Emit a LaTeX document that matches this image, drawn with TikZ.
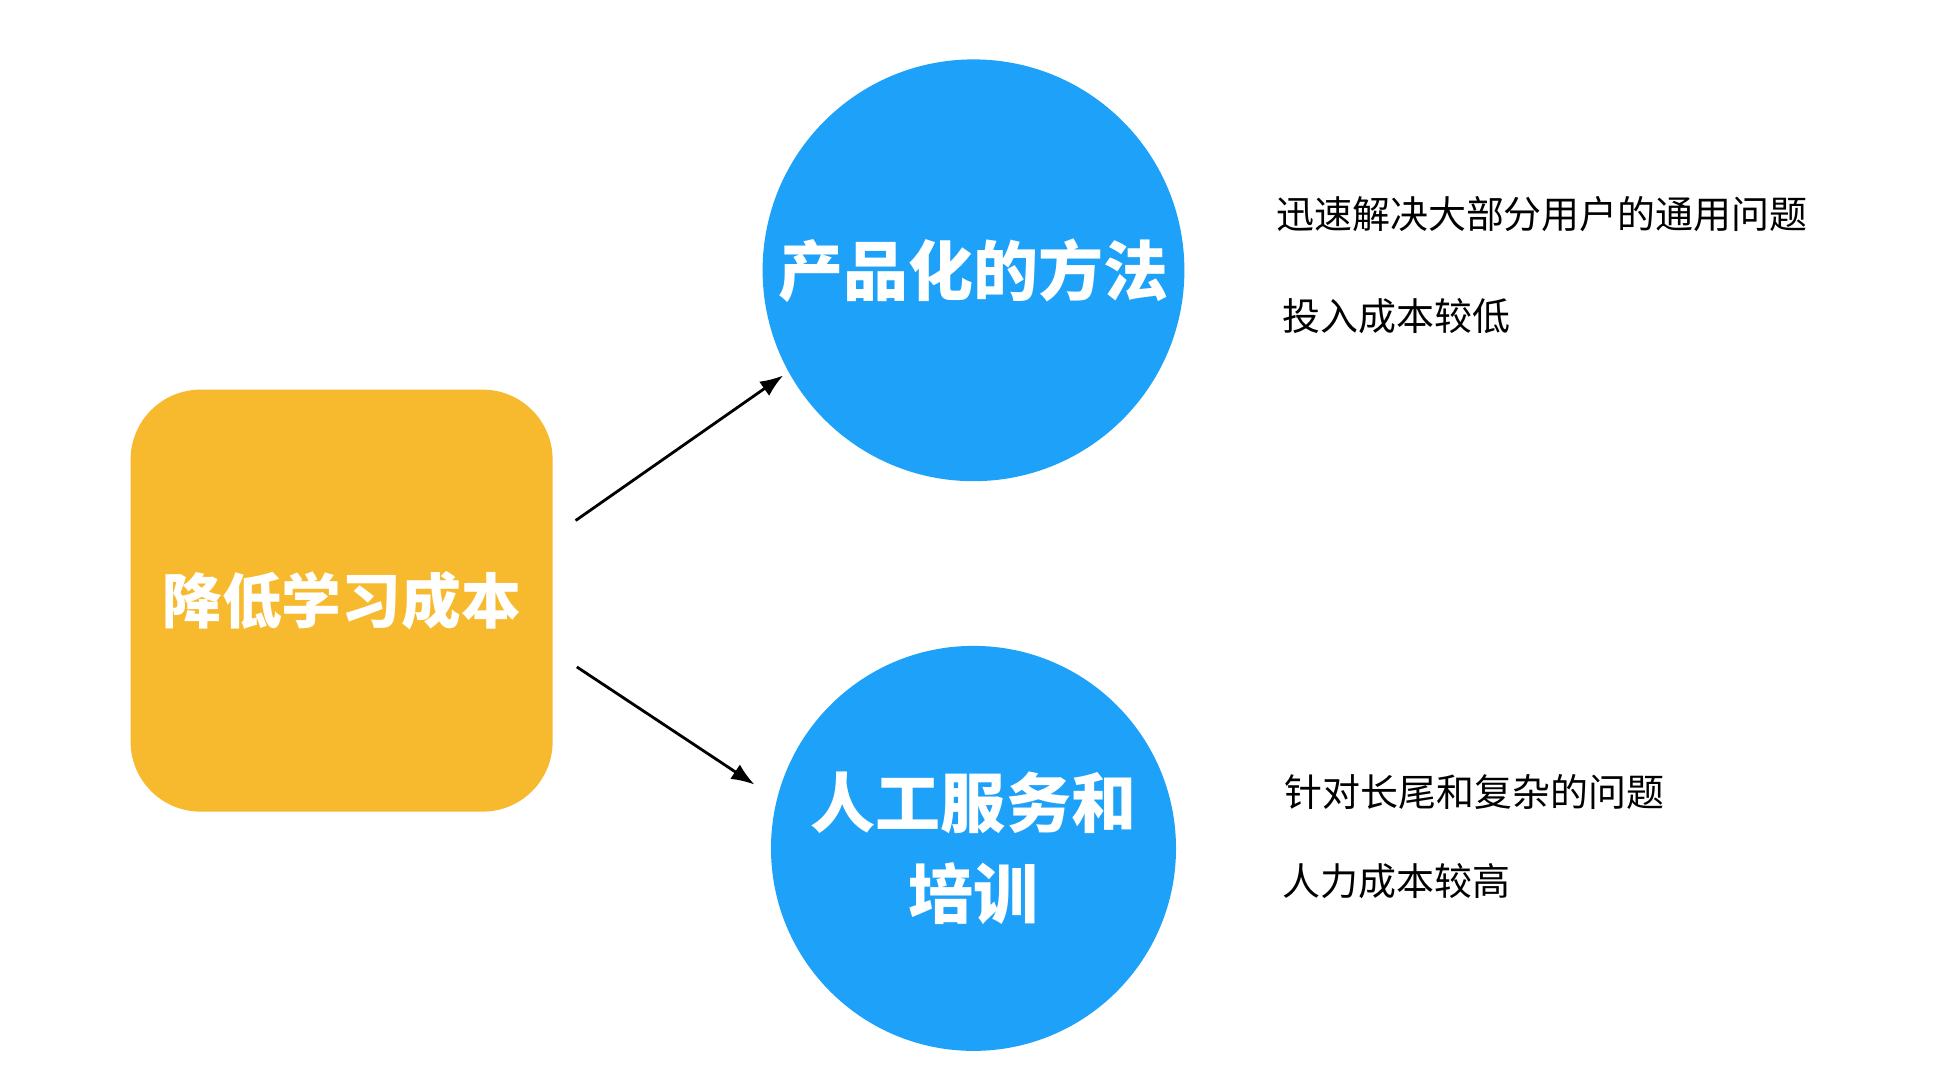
\documentclass[tikz,border=0pt]{standalone}
\usepackage{fontspec}
\setmainfont{Noto Sans CJK SC}
\usetikzlibrary{arrows.meta}
\definecolor{boxcol}{HTML}{F7B92E}
\definecolor{circcol}{HTML}{1DA1F9}
\tikzset{>=Latex,
  goal/.style={fill=boxcol,rounded corners=0.7cm,minimum size=4.22cm,
               text=white,font=\fontsize{17}{20}\selectfont\bfseries},
  way/.style={circle,fill=circcol,minimum size=4.05cm,text=white,align=center,
              font=\fontsize{18.5}{26}\selectfont\bfseries},
  note/.style={anchor=west,font=\fontsize{10.8}{13}\selectfont},
  link/.style={->,thick}}
\begin{document}
\begin{tikzpicture}[x=0.012513cm,y=-0.012513cm]
  \useasboundingbox (0,0) rectangle (1560,868);

  % NODES
  \node[goal] (goal) at (273,480) {降低学习成本};
  \node[way] (prod) at (778,216) {产品化的方法};
  \node[way] (serv) at (778,678) {人工服务和\\培训};

  % ARROWS
  \coordinate (s1) at (460,416);
  \coordinate (s2) at (461,533);
  \coordinate (e1) at (626,300);
  \coordinate (e2) at (603,627);
  \draw[link] (s1) -- (e1);
  \draw[link] (s2) -- (e2);

  % NOTES
  \node[note] (n1) at (1010,171) {迅速解决大部分用户的通用问题};
  \node[note] (n2) at (1015,253) {投入成本较低};
  \node[note] (n3) at (1017,633) {针对长尾和复杂的问题};
  \node[note] (n4) at (1015,704) {人力成本较高};
\end{tikzpicture}
\end{document}
